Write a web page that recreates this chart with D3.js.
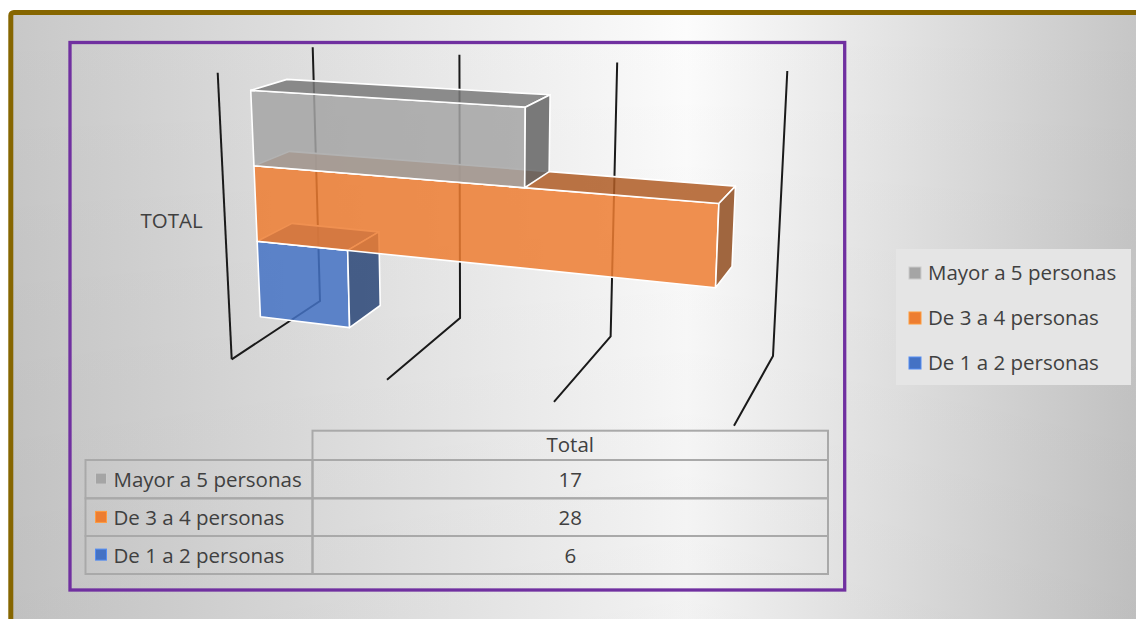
<!DOCTYPE html>
<html><head><meta charset="utf-8">
<script src="https://cdn.jsdelivr.net/npm/d3@7"></script>
<style>html,body{margin:0;padding:0;background:#fff;overflow:hidden}</style>
</head><body><svg id="chart" width="1136" height="619"></svg>
<script>
// ---------- data ----------
const series = ["De 1 a 2 personas", "De 3 a 4 personas", "Mayor a 5 personas"]; // bottom -> top
const values = [6, 28, 17];
const colors = ["#4472C4", "#ED7D31", "#A5A5A5"];
const categories = ["TOTAL"];
const tableHeader = ["Total"];
const legendOrder = ["Mayor a 5 personas", "De 3 a 4 personas", "De 1 a 2 personas"];
const valueDomain = [0, 30];

// ---------- setup ----------
const W = 1136, H = 619;
const FONT = "'Open Sans', 'Noto Sans', sans-serif";
const TXT = "#404040";
const svg = d3.select("#chart");
const defs = svg.append("defs");

const bg = defs.append("linearGradient").attr("id", "bg").attr("gradientUnits", "userSpaceOnUse")
  .attr("x1", 13).attr("y1", 0).attr("x2", 1136).attr("y2", 0);
[[0, "#C8C8C8"], [0.6, "#FCFCFC"], [1, "#C6C6C6"]].forEach(([o, c]) => bg.append("stop").attr("offset", o).attr("stop-color", c));
const sh = defs.append("linearGradient").attr("id", "shade").attr("x1", 0).attr("y1", 0).attr("x2", 0).attr("y2", 1);
sh.append("stop").attr("offset", 0).attr("stop-color", "#000").attr("stop-opacity", 0);
sh.append("stop").attr("offset", 1).attr("stop-color", "#000").attr("stop-opacity", 0.045);

svg.append("rect").attr("x", 10.8).attr("y", 12.5).attr("width", 1200).attr("height", 700).attr("fill", "url(#bg)");
svg.append("rect").attr("x", 10.8).attr("y", 12.5).attr("width", 1200).attr("height", 700).attr("fill", "url(#shade)");
svg.append("rect").attr("x", 10.8).attr("y", 12.5).attr("width", 1200).attr("height", 700).attr("rx", 3)
  .attr("fill", "none").attr("stroke", "#866600").attr("stroke-width", 5);

// chart border
svg.append("rect").attr("x", 70).attr("y", 42.5).attr("width", 774.7).attr("height", 547.5)
  .attr("fill", "none").attr("stroke", "#7030A0").attr("stroke-width", 3.3);

// ---------- 3D projection ----------
const xs = d3.scaleLinear().domain(valueDomain).range([0, 1]);
const hs = d3.scaleBand().domain(series).range([0.0835, 0.905]).padding(0);
// screen corners of the plot box: f=front, b=back; index = [value end][height end]
const box = {
  f00: [231.7, 359.3], f10: [734, 425.7], f01: [217.7, 72.7], f11: [748, 102.7],
  b00: [320, 301], b10: [773, 356], b01: [312.7, 47.3], b11: [787.3, 71]
};
const persp = 0.895;
const depthFront = 0.336, depthBack = 0.72;
const lerp = (a, b, s) => [a[0] + (b[0] - a[0]) * s, a[1] + (b[1] - a[1]) * s];
function proj(v, h, z) {
  const X = xs(v);
  const t = persp * X / (persp * X + 1 - X);
  const fl = lerp(box.f00, box.f01, h), fr = lerp(box.f10, box.f11, h);
  const bl = lerp(box.b00, box.b01, h), br = lerp(box.b10, box.b11, h);
  const L = lerp(fl, bl, z), R = lerp(fr, br, z);
  return lerp(L, R, t);
}
const poly = pts => "M" + pts.map(p => p[0].toFixed(2) + "," + p[1].toFixed(2)).join("L") + "Z";
const line = pts => "M" + pts.map(p => p[0].toFixed(2) + "," + p[1].toFixed(2)).join("L");

// gridlines (back wall + floor)
const grid = svg.append("g").attr("fill", "none").attr("stroke", "#1a1a1a").attr("stroke-width", 2)
  .attr("stroke-linejoin", "miter");
xs.ticks(3).forEach(v => {
  grid.append("path").attr("d", line([proj(v, 0, 0), proj(v, 0, 1), proj(v, 1, 1)]));
});
// category axis line (front edge)
grid.append("path").attr("d", line([proj(valueDomain[0], 0, 0), proj(valueDomain[0], 1, 0)]));

// category label
const catC = proj(valueDomain[0], (hs.range()[0] + hs.range()[1]) / 2, 0);
svg.append("text").attr("x", catC[0] - 22).attr("y", catC[1] + 10).attr("text-anchor", "end")
  .attr("font-family", FONT).attr("font-size", 20.5).attr("fill", TXT).text(categories[0]);

// bars
const bars = svg.append("g");
series.forEach((s, i) => {
  const v = values[i], v0 = valueDomain[0];
  const y0 = hs(s), y1 = y0 + hs.bandwidth();
  const zf = depthFront, zb = depthBack;
  const base = d3.color(colors[i]);
  const g = bars.append("g").attr("stroke", "#fff").attr("stroke-width", 1.6).attr("stroke-linejoin", "round");
  g.append("path").attr("d", poly([proj(v0, y0, zf), proj(v, y0, zf), proj(v, y1, zf), proj(v0, y1, zf)]))
    .attr("fill", base.formatHex()).attr("fill-opacity", 0.85);
  g.append("path").attr("d", poly([proj(v0, y1, zf), proj(v, y1, zf), proj(v, y1, zb), proj(v0, y1, zb)]))
    .attr("fill", base.darker(0.85).formatHex()).attr("fill-opacity", 0.85);
  g.append("path").attr("d", poly([proj(v, y0, zf), proj(v, y0, zb), proj(v, y1, zb), proj(v, y1, zf)]))
    .attr("fill", base.darker(1.4).formatHex()).attr("fill-opacity", 0.85);
});

// ---------- data table ----------
const colX = [85.5, 312.5, 828];
const rowY = [430.7, 460, 498.3, 536, 574];
const tb = svg.append("g");
const tStroke = "#A9A9A9";
// header cell
tb.append("rect").attr("x", colX[1]).attr("y", rowY[0]).attr("width", colX[2] - colX[1]).attr("height", rowY[1] - rowY[0])
  .attr("fill", "none").attr("stroke", tStroke).attr("stroke-width", 2);
tb.append("text").attr("x", (colX[1] + colX[2]) / 2).attr("y", rowY[0] + 21.6).attr("text-anchor", "middle")
  .attr("font-family", FONT).attr("font-size", 20.5).attr("fill", TXT).text(tableHeader[0]);
legendOrder.forEach((name, r) => {
  const i = series.indexOf(name);
  const yT = rowY[r + 1], yB = rowY[r + 2];
  tb.append("rect").attr("x", colX[0]).attr("y", yT).attr("width", colX[1] - colX[0]).attr("height", yB - yT)
    .attr("fill", "none").attr("stroke", tStroke).attr("stroke-width", 2);
  tb.append("rect").attr("x", colX[1]).attr("y", yT).attr("width", colX[2] - colX[1]).attr("height", yB - yT)
    .attr("fill", "none").attr("stroke", tStroke).attr("stroke-width", 2);
  const base = yT + 26.6;
  tb.append("rect").attr("x", 95.5).attr("y", base - 13.5).attr("width", 11).attr("height", 11)
    .attr("fill", colors[i]).attr("stroke", d3.color(colors[i]).brighter(0.6).formatHex()).attr("stroke-width", 1);
  tb.append("text").attr("x", 113.5).attr("y", base).attr("font-family", FONT).attr("font-size", 20.5)
    .attr("fill", TXT).text(name);
  tb.append("text").attr("x", (colX[1] + colX[2]) / 2).attr("y", base).attr("text-anchor", "middle")
    .attr("font-family", FONT).attr("font-size", 20.5).attr("fill", TXT).text(values[i]);
});

// ---------- legend ----------
const lg = svg.append("g");
lg.append("rect").attr("x", 896).attr("y", 249).attr("width", 235).attr("height", 136).attr("fill", "#E5E5E5");
legendOrder.forEach((name, r) => {
  const i = series.indexOf(name);
  const base = 279.5 + r * 45;
  lg.append("rect").attr("x", 909).attr("y", base - 12.5).attr("width", 12).attr("height", 12)
    .attr("fill", colors[i]).attr("stroke", d3.color(colors[i]).brighter(0.6).formatHex()).attr("stroke-width", 1);
  lg.append("text").attr("x", 928).attr("y", base).attr("font-family", FONT).attr("font-size", 20.5)
    .attr("fill", TXT).text(name);
});
</script>
</body></html>
